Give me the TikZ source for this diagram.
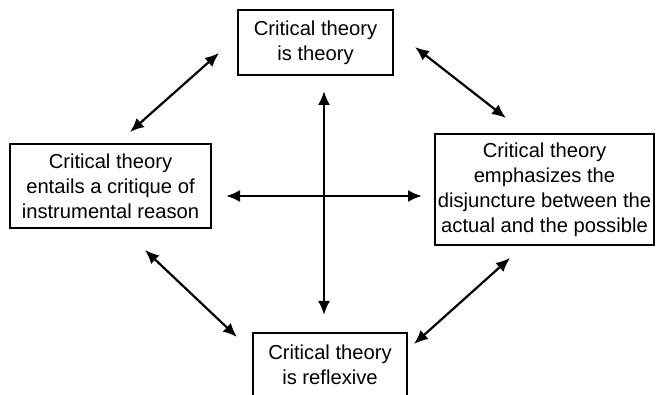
\documentclass[tikz,border=0pt]{standalone}
\usepackage{fontspec}
\setmainfont{Liberation Sans}
\usetikzlibrary{arrows.meta}
\tikzset{
  claim/.style={draw, line width=1.3pt, align=center, inner sep=0pt,
    font=\fontsize{20.2}{25}\selectfont},
  link/.style={line width=2.2pt, {Latex[length=14pt,width=12pt]}-{Latex[length=14pt,width=12pt]}}
}
\begin{document}
\begin{tikzpicture}[x=1pt,y=-1pt]
\clip (0,0) rectangle (659,395);
\node [claim, minimum width=155, minimum height=65] (theory) at (315.5,42.5)
  {Critical theory\\is theory};
\node [claim, minimum width=201, minimum height=84] (critique) at (110.5,186)
  {Critical theory\\entails a critique of\\instrumental reason};
\node [claim, minimum width=219, minimum height=111] (disjuncture) at (544.5,189.5)
  {Critical theory\\emphasizes the\\disjuncture between the\\actual and the possible};
\node [claim, minimum width=154, minimum height=64] (reflexive) at (330,365)
  {Critical theory\\is reflexive};
% arrow ends
\coordinate (a1) at (130,132); \coordinate (a2) at (219,53);
\coordinate (b1) at (415,47);  \coordinate (b2) at (506,118);
\coordinate (c1) at (145,250); \coordinate (c2) at (237,337);
\coordinate (d1) at (510,258); \coordinate (d2) at (414,344);
\coordinate (up) at (324,91);  \coordinate (down) at (324,315);
\coordinate (lft) at (226,196); \coordinate (rgt) at (422,196);
\draw [link] (a1) -- (a2);
\draw [link] (b1) -- (b2);
\draw [link] (c1) -- (c2);
\draw [link] (d1) -- (d2);
\draw [link] (up) -- (down);
\draw [link] (lft) -- (rgt);
\end{tikzpicture}
\end{document}
